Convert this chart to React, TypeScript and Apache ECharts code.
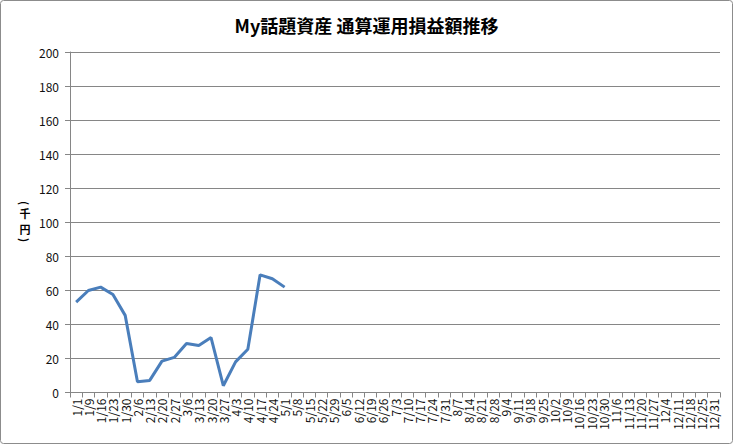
import React, { useEffect, useRef } from "react";
import * as echarts from "echarts";

const categories = [
  "1/1", "1/9", "1/16", "1/23", "1/30", "2/6", "2/13", "2/20", "2/27",
  "3/6", "3/13", "3/20", "3/27", "4/3", "4/10", "4/17", "4/24", "5/1",
  "5/8", "5/15", "5/22", "5/29", "6/5", "6/12", "6/19", "6/26", "7/3",
  "7/10", "7/17", "7/24", "7/31", "8/7", "8/14", "8/21", "8/28", "9/4",
  "9/11", "9/18", "9/25", "10/2", "10/9", "10/16", "10/23", "10/30",
  "11/6", "11/13", "11/20", "11/27", "12/4", "12/11", "12/18", "12/25", "12/31",
];

const values: (number | null)[] = [
  53.1, 59.9, 61.9, 57.6, 45.3, 6.3, 7.1, 18.4, 20.6, 28.8, 27.6, 32.3,
  4.0, 18.0, 25.4, 69.1, 66.8, 61.9,
];

const title = "My話題資産 通算運用損益額推移";
const yNameChars = ["千", "円"];
const yNameParens = ["(", ")"];
const yTicks = { min: 0, max: 200, interval: 20 };

export default function App() {
  const ref = useRef<HTMLDivElement>(null);
  useEffect(() => {
    if (!ref.current) return;
    const chart = echarts.init(ref.current, undefined, { renderer: "svg" });
    const font = "'Noto Sans CJK JP', 'Liberation Sans', sans-serif";
    const charYs = [213, 229];
    const parenYs = [203, 240];
    chart.setOption({
      animation: false,
      backgroundColor: "#ffffff",
      title: {
        text: title,
        left: "center",
        top: 11,
        textStyle: { fontSize: 18, fontWeight: "bold", color: "#000", fontFamily: font },
      },
      graphic: [
        {
          type: "rect",
          shape: { x: 0.5, y: 0.5, width: 732, height: 443, r: 3 },
          style: { fill: "none", stroke: "#8c8c8c", lineWidth: 1 },
          silent: true,
        },
        ...yNameChars.map((c, i) => ({
          type: "text",
          x: 25,
          y: charYs[i],
          style: {
            text: c,
            fontSize: 11,
            fontWeight: "bold",
            fontFamily: font,
            fill: "#000",
            align: "center",
            verticalAlign: "middle",
          },
        })),
        ...yNameParens.map((c, i) => ({
          type: "text",
          x: 25,
          y: parenYs[i],
          rotation: -Math.PI / 2,
          style: {
            text: c,
            fontSize: 11,
            fontWeight: "bold",
            fontFamily: font,
            fill: "#000",
            align: "center",
            verticalAlign: "middle",
          },
        })),
      ],
      grid: { left: 70, right: 13, top: 52, bottom: 51.5, containLabel: false },
      xAxis: {
        type: "category",
        data: categories,
        boundaryGap: true,
        axisLine: { lineStyle: { color: "#868686" } },
        axisTick: { show: true, length: 5, lineStyle: { color: "#868686" } },
        axisLabel: {
          interval: 0,
          rotate: 90,
          fontSize: 12,
          color: "#111",
          fontFamily: font,
          margin: 6,
        },
        splitLine: { show: false },
      },
      yAxis: {
        type: "value",
        min: yTicks.min,
        max: yTicks.max,
        interval: yTicks.interval,
        axisLine: { show: true, lineStyle: { color: "#868686" } },
        axisTick: { show: true, length: 5, lineStyle: { color: "#868686" } },
        axisLabel: { fontSize: 12, color: "#111", fontFamily: font, margin: 11 },
        splitLine: { show: true, lineStyle: { color: "#868686", width: 1 } },
      },
      series: [
        {
          type: "line",
          data: values,
          showSymbol: false,
          symbol: "none",
          lineStyle: { color: "#4a7ebb", width: 3 },
          itemStyle: { color: "#4a7ebb" },
        },
      ],
    });
    return () => chart.dispose();
  }, []);
  return (
    <div
      ref={ref}
      style={{ position: "fixed", left: 0, top: 0, width: 733, height: 444 }}
    />
  );
}
